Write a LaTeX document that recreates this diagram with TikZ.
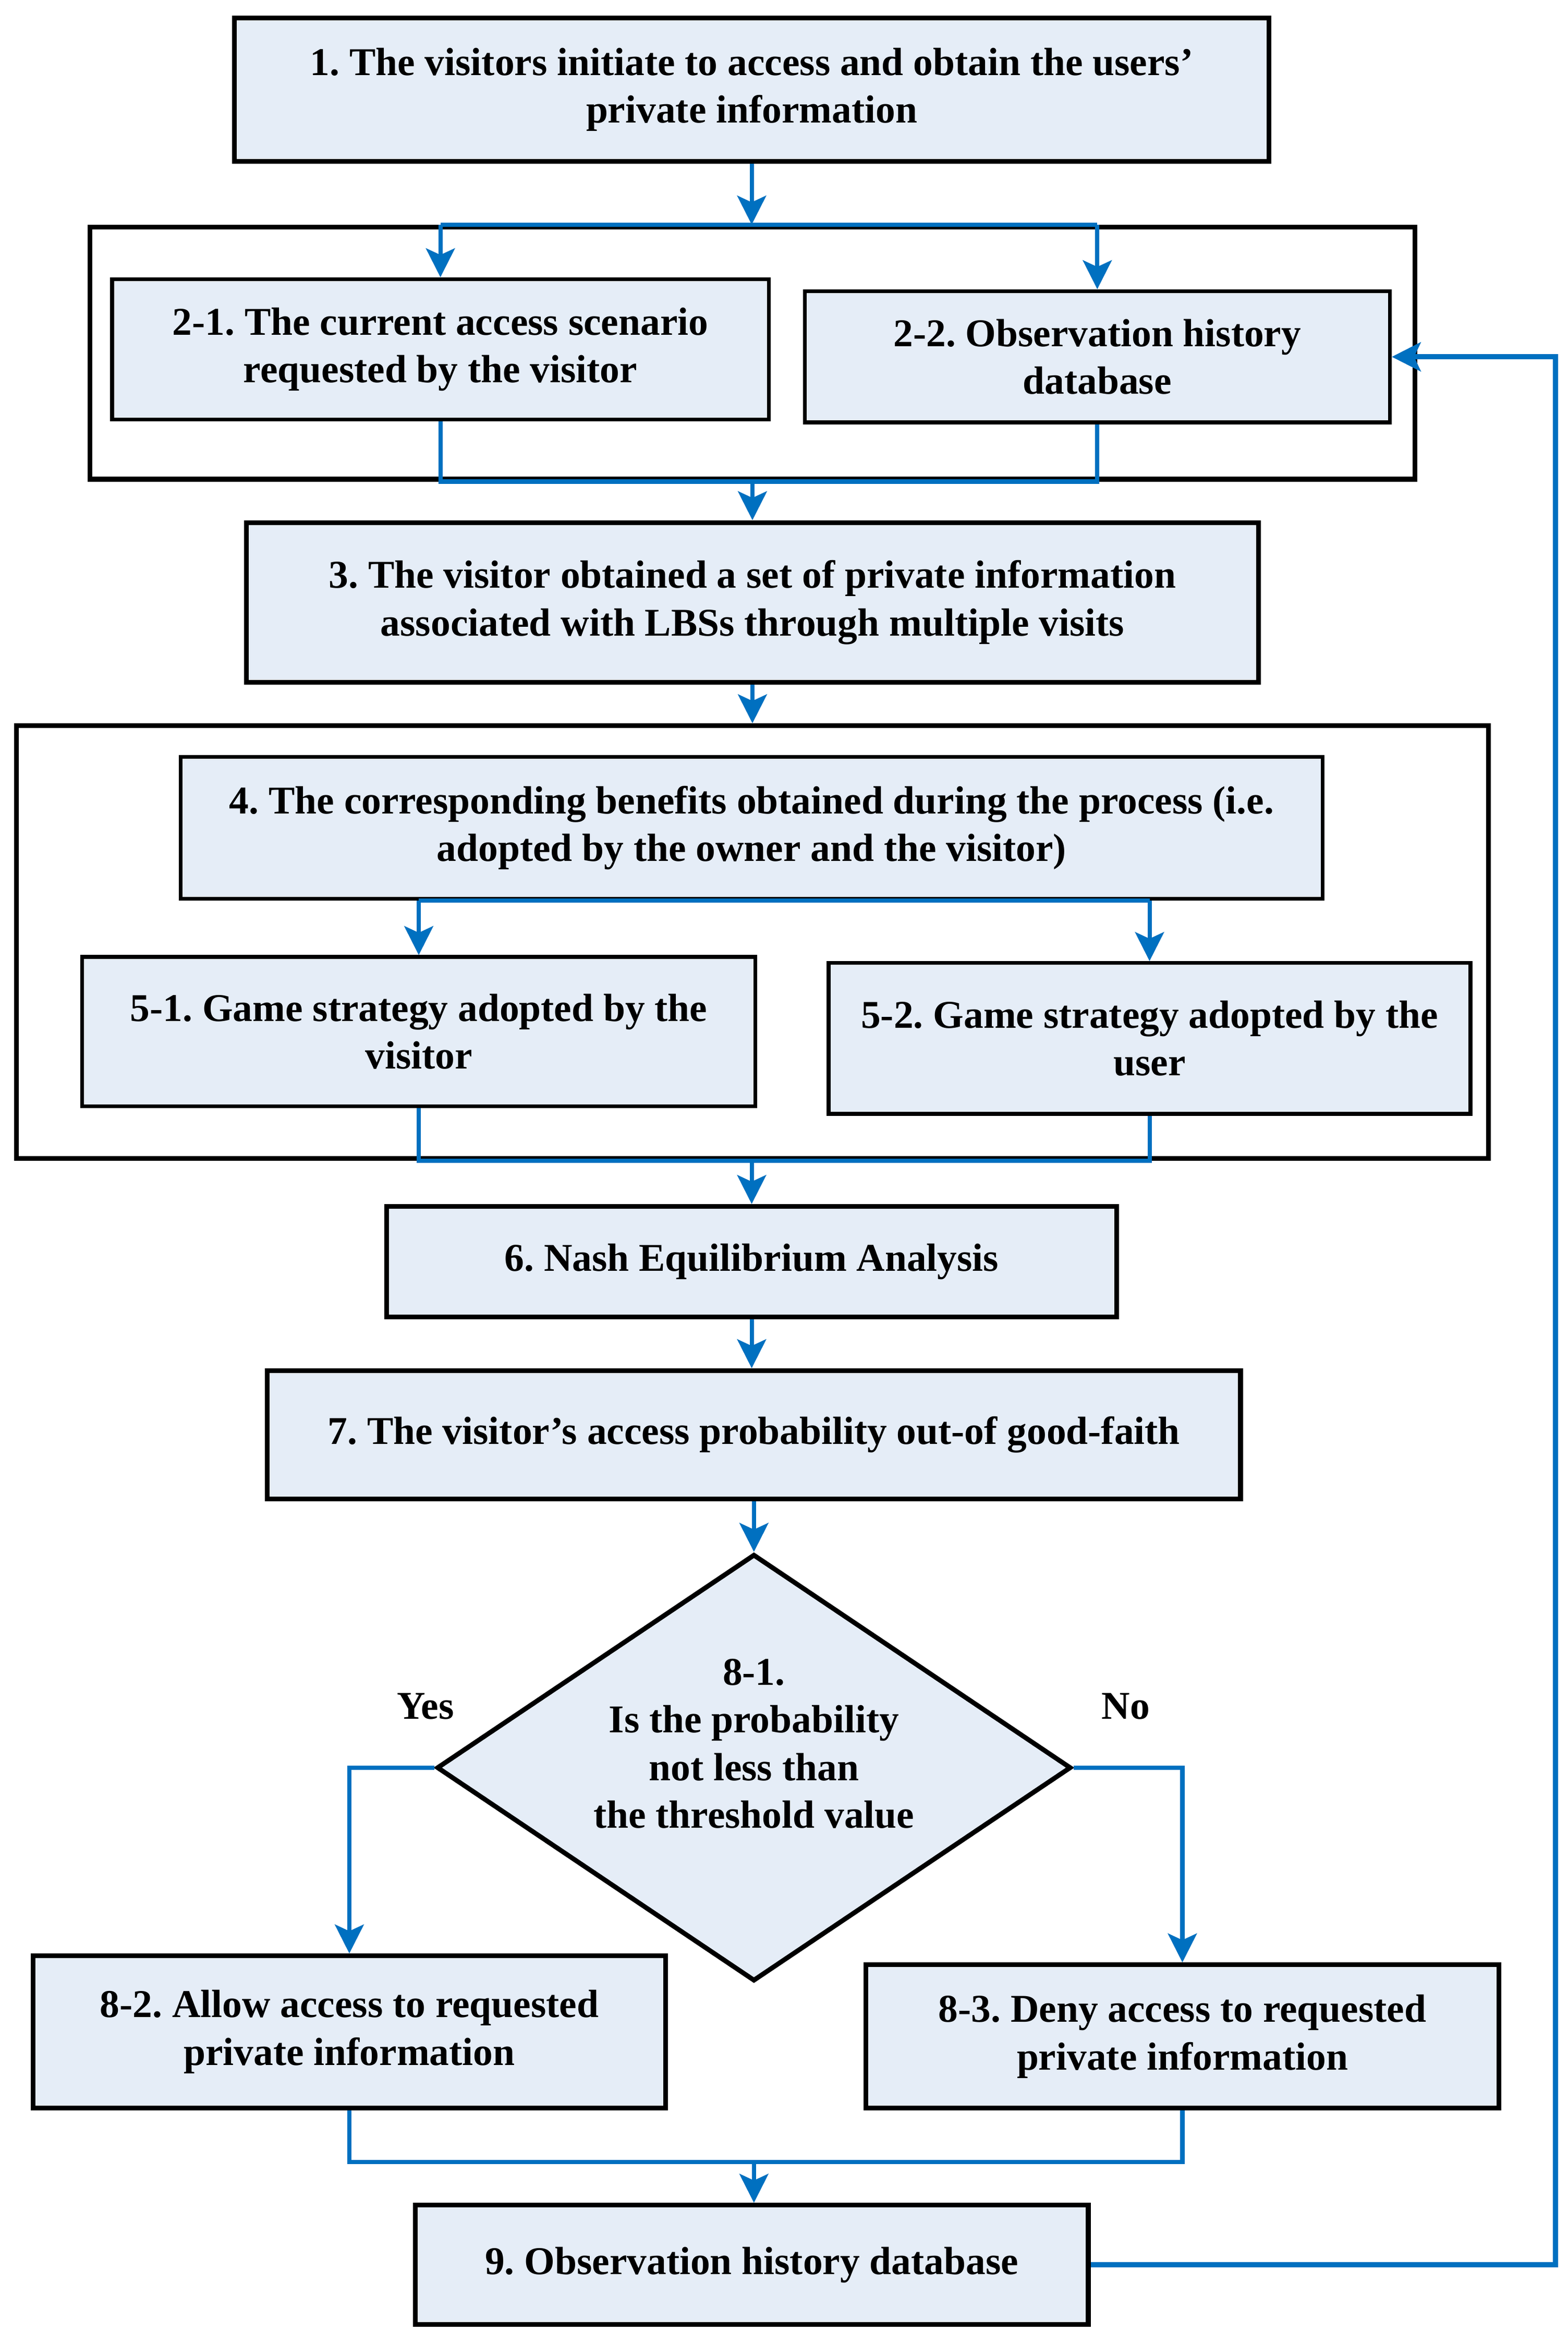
\documentclass[tikz,border=0pt]{standalone}
\usepackage{fontspec}
\setmainfont{Liberation Serif}
\usepackage{tikz}
\usetikzlibrary{positioning,shapes.geometric,arrows.meta}
\definecolor{boxfill}{HTML}{E5EDF7}
\definecolor{linkblue}{HTML}{0070C0}
\frenchspacing

\begin{document}
\begin{tikzpicture}[x=0.02cm, y=-0.02cm,
  font=\fontsize{15}{18.2}\selectfont\bfseries,
  box/.style={shape=rectangle, draw=black, line width=1.8pt, fill=boxfill, align=center, inner sep=0pt},
  frame/.style={shape=rectangle, draw=black, line width=1.8pt, inner sep=0pt},
  link/.style={draw=linkblue, line width=1.6pt},
  arrow/.style={link, -{Stealth[length=11pt, width=11pt, inset=2.5pt]}}]
\useasboundingbox (0,0) rectangle (1050,1562);
% outer frames
\node[frame, minimum width=17.76cm, minimum height=3.38cm] (o2) at (504,236.5) {};
\node[frame, minimum width=19.72cm, minimum height=5.8cm] (o4) at (504,631) {};
% boxes
\node[box, minimum width=13.86cm, minimum height=1.92cm] (b1) at (503.5,60) {1. The visitors initiate to access and obtain the users'\\private information};
\node[box, minimum width=8.8cm, minimum height=1.88cm, line width=1.5pt] (b21) at (295,234) {2-1. The current access scenario\\requested by the visitor};
\node[box, minimum width=7.84cm, minimum height=1.76cm, line width=1.5pt] (b22) at (735,239) {2-2. Observation history\\database};
\node[box, minimum width=13.56cm, minimum height=2.14cm] (b3) at (504,403.5) {3. The visitor obtained a set of private information\\associated with LBSs through multiple visits};
\node[box, minimum width=15.3cm, minimum height=1.9cm, line width=1.5pt] (b4) at (503.5,554.5) {4. The corresponding benefits obtained during the process (i.e.\\adopted by the owner and the visitor)};
\node[box, minimum width=9.02cm, minimum height=2.0cm, line width=1.5pt] (b51) at (280.5,691) {5-1. Game strategy adopted by the\\visitor};
\node[box, minimum width=8.6cm, minimum height=2.02cm, line width=1.5pt] (b52) at (770,695.5) {5-2. Game strategy adopted by the\\user};
\node[box, minimum width=9.78cm, minimum height=1.48cm] (b6) at (503.5,845) {6. Nash Equilibrium Analysis};
\node[box, minimum width=13.04cm, minimum height=1.72cm] (b7) at (505,961) {7. The visitor's access probability out-of good-faith};
\node[shape=diamond, draw=black, line width=1.8pt, fill=boxfill, inner sep=0pt, minimum width=8.5cm, minimum height=5.72cm] (d8) at (505,1184) {};
\node[align=center] (t8) at (505,1168) {8-1.\\Is the probability\\not less than\\the threshold value};
\node[box, minimum width=8.48cm, minimum height=2.04cm] (b82) at (234,1361) {8-2. Allow access to requested\\private information};
\node[box, minimum width=8.48cm, minimum height=1.92cm] (b83) at (792,1364) {8-3. Deny access to requested\\private information};
\node[box, minimum width=9.02cm, minimum height=1.6cm] (b9) at (503.5,1517) {9. Observation history database};
\node (yes) at (285,1143) {Yes};
\node (no) at (754,1143) {No};
\coordinate (j9) at (505,1448);
\coordinate (fb) at (1042,0);
% connectors
\draw[arrow] (b1.south) -- (b1.south |- o2.north);
\draw[link] (b21.north |- o2.north) -- (b22.north |- o2.north);
\draw[arrow] (b21.north |- o2.north) -- (b21.north);
\draw[arrow] (b22.north |- o2.north) -- (b22.north);
\draw[link] (b21.south) -- (b21.south |- o2.south) -- (b22.south |- o2.south) -- (b22.south);
\draw[arrow] (b3.north |- o2.south) -- (b3.north);
\draw[arrow] (b3.south) -- (b3.south |- o4.north);
\draw[link] (b51.north |- b4.south) -- (b52.north |- b4.south);
\draw[arrow] (b51.north |- b4.south) -- (b51.north);
\draw[arrow] (b52.north |- b4.south) -- (b52.north);
\draw[link] (b51.south) -- (b51.south |- o4.south) -- (b52.south |- o4.south) -- (b52.south);
\draw[arrow] (b6.north |- o4.south) -- (b6.north);
\draw[arrow] (b6.south) -- (b6.south |- b7.north);
\draw[arrow] (b7.south) -- (d8.north);
\draw[arrow] (d8.west) -| (b82.north);
\draw[arrow] (d8.east) -| (b83.north);
\draw[link] (b82.south) -- (b82.south |- j9) -| (b83.south);
\draw[arrow] (j9) -- (j9 |- b9.north);
\draw[arrow, line width=2pt] (b9.east) -- (b9.east -| fb) |- (b22.east);
\end{tikzpicture}
\end{document}
